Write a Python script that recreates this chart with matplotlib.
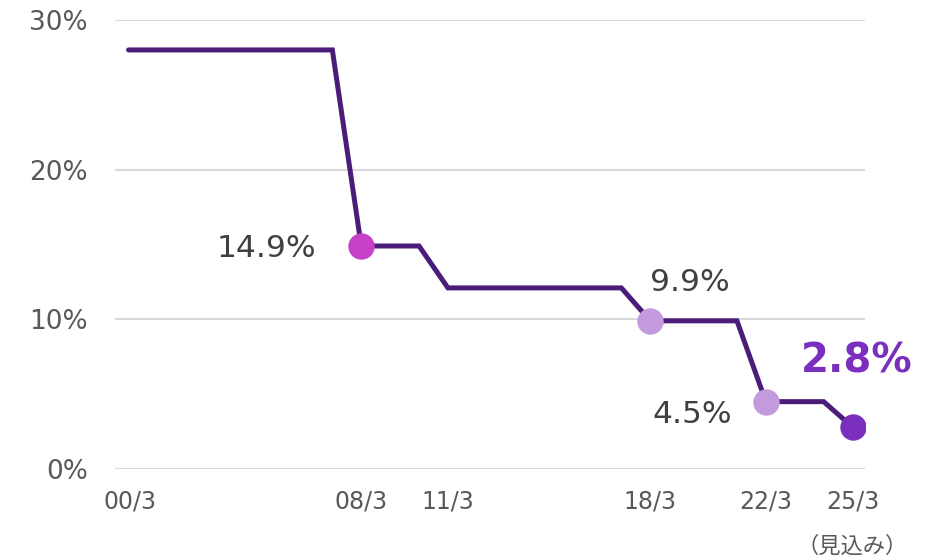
import matplotlib
matplotlib.use("Agg")
import matplotlib.pyplot as plt

plt.rcParams['font.family'] = ['DejaVu Sans', 'Noto Sans CJK JP']

# Step line data (year offset from 2000/3, rate %)
line_years = [-0.05, 7.0, 8.0, 10.0, 11.0, 17.0, 18.0, 21.0, 22.0, 24.0, 25.0]
line_rates = [28.0, 28.0, 14.9, 14.9, 12.1, 12.1, 9.9, 9.9, 4.5, 4.5, 2.8]

# Highlighted points
pt_years = [8, 18, 22, 25]
pt_rates = [14.9, 9.9, 4.5, 2.8]
pt_labels = ["14.9%", "9.9%", "4.5%", "2.8%"]
pt_colors = ["#C83FC8", "#C39BDD", "#C39BDD", "#7A2FBF"]

tick_years = [0, 8, 11, 18, 22, 25]
tick_labels = ["00/3", "08/3", "11/3", "18/3", "22/3", "25/3"]
note_label = "（見込み）"

y_ticks = [0, 10, 20, 30]
y_labels = ["0%", "10%", "20%", "30%"]

fig = plt.figure(figsize=(9.3, 5.57), dpi=100)
ax = fig.add_axes([115/930, 1-469/557, (865-115)/930, (469-20)/557])
ax.set_xlim(-0.52, 25.43)
ax.set_ylim(0, 30)

for s in ax.spines.values():
    s.set_visible(False)
ax.yaxis.grid(True, color="#D9D9D9", linewidth=1.5)
ax.set_axisbelow(True)

ax.plot(line_years, line_rates, color="#4B1C78", linewidth=3.6,
        solid_capstyle="round", solid_joinstyle="miter", zorder=2)
for x, y, c in zip(pt_years, pt_rates, pt_colors):
    ax.plot([x], [y], 'o', color=c, markersize=19, markeredgewidth=0, zorder=3)

offsets = [(-95, -3), (40, 38), (-74, -13), (4, 66)]
for i, (x, y, lab, off) in enumerate(zip(pt_years, pt_rates, pt_labels, offsets)):
    if i == 3:
        ax.annotate(lab, xy=(x, y), xytext=off, textcoords='offset pixels',
                    ha='center', va='center', fontsize=29, fontweight='bold',
                    color="#7A2FBF")
    else:
        ax.annotate(lab, xy=(x, y), xytext=off, textcoords='offset pixels',
                    ha='center', va='center', fontsize=22.5, color="#404040")

ax.set_yticks(y_ticks)
ax.set_yticklabels(y_labels, fontsize=19, color="#595959")
ax.set_xticks(tick_years)
ax.set_xticklabels(tick_labels, fontsize=17, color="#595959")
ax.tick_params(axis='y', length=0, pad=19.5)
ax.tick_params(axis='x', length=0, pad=15)

ax.annotate(note_label, xy=(tick_years[-1], 0), xytext=(0, -77),
            textcoords='offset pixels', ha='center', va='center',
            fontsize=16, color="#595959", annotation_clip=False)

fig.savefig("out.png", dpi=100, facecolor="white")
